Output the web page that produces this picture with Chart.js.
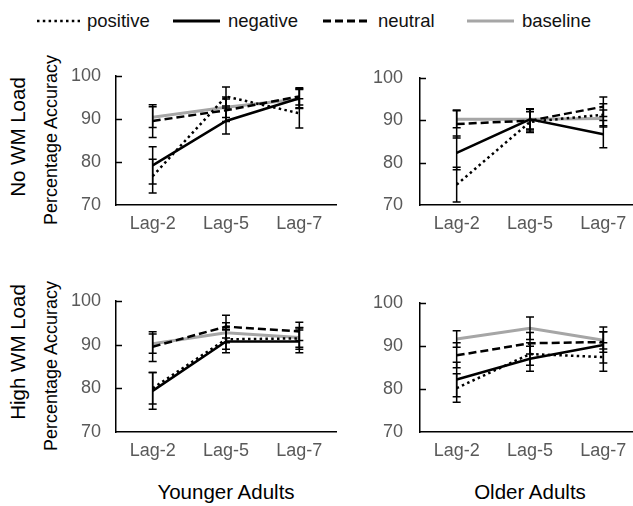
<!DOCTYPE html>
<html><head><meta charset="utf-8">
<script src="https://cdn.jsdelivr.net/npm/chart.js@4.4.1/dist/chart.umd.min.js"></script>
<style>
html,body{margin:0;padding:0;background:#fff;width:633px;height:506px;overflow:hidden;position:relative;font-family:"Liberation Sans",Arial,sans-serif;}
canvas{position:absolute;}
.rot{position:absolute;transform:translate(-50%,-50%) rotate(-90deg);white-space:nowrap;color:#000;}
.lab{position:absolute;transform:translate(-50%,-50%);white-space:nowrap;color:#000;}
</style></head><body>
<svg width="633" height="36" style="position:absolute;left:0;top:0" font-family="Liberation Sans, Arial, sans-serif">
  <line x1="37" y1="21" x2="80" y2="21" stroke="#000" stroke-width="2.5" stroke-dasharray="2.5,3.3"/>
  <text x="87" y="27" font-size="18.5" fill="#111">positive</text>
  <line x1="173" y1="21" x2="220" y2="21" stroke="#000" stroke-width="3"/>
  <text x="228" y="27" font-size="18.5" fill="#111">negative</text>
  <line x1="323" y1="21" x2="370" y2="21" stroke="#000" stroke-width="3" stroke-dasharray="8,4"/>
  <text x="378" y="27" font-size="18.5" fill="#111">neutral</text>
  <line x1="467" y1="21" x2="514" y2="21" stroke="#a6a6a6" stroke-width="3"/>
  <text x="522" y="27" font-size="18.5" fill="#111">baseline</text>
</svg>
<div class="rot" style="left:18px;top:137px;font-size:20.5px">No WM Load</div>
<div class="rot" style="left:51px;top:140px;font-size:18px">Percentage Accuracy</div>
<div class="rot" style="left:18px;top:352px;font-size:20.5px">High WM Load</div>
<div class="rot" style="left:51px;top:366px;font-size:18px">Percentage Accuracy</div>
<div class="lab" style="left:226px;top:492px;font-size:20.5px">Younger Adults</div>
<div class="lab" style="left:530px;top:492px;font-size:20.5px">Older Adults</div>
<canvas id="c1" width="290" height="195" style="left:60px;top:50px"></canvas>
<canvas id="c2" width="280" height="195" style="left:360px;top:50px"></canvas>
<canvas id="c3" width="290" height="197" style="left:60px;top:275px"></canvas>
<canvas id="c4" width="280" height="197" style="left:360px;top:275px"></canvas>
<script>
const categories = ['Lag-2', 'Lag-5', 'Lag-7'];
const seriesNames = ['positive', 'negative', 'neutral', 'baseline'];
const yTicks = [70, 80, 90, 100];

// Younger adults, No WM load
const youngNoPositive = [76.7, 95.2, 91.3];
const youngNoPositiveErr = [3.9, 2.2, 3.4];
const youngNoNegative = [79.2, 89.5, 94.8];
const youngNoNegativeErr = [4.3, 3.0, 2.2];
const youngNoNeutral = [89.5, 92.0, 95.2];
const youngNoNeutralErr = [3.8, 2.6, 2.0];
const youngNoBaseline = [90.4, 92.7, 94.6];
const youngNoBaselineErr = [2.4, 2.4, 2.2];

// Older adults, No WM load
const oldNoPositive = [74.8, 89.6, 91.3];
const oldNoPositiveErr = [4.1, 2.4, 2.6];
const oldNoNegative = [82.3, 90.2, 86.7];
const oldNoNegativeErr = [4.0, 2.5, 3.2];
const oldNoNeutral = [89.1, 89.9, 93.2];
const oldNoNeutralErr = [3.3, 2.8, 2.3];
const oldNoBaseline = [90.2, 90.2, 90.4];
const oldNoBaselineErr = [2.0, 2.3, 2.0];

// Younger adults, High WM load
const youngHighPositive = [80.0, 91.2, 91.4];
const youngHighPositiveErr = [3.6, 2.3, 2.5];
const youngHighNegative = [79.4, 90.7, 90.7];
const youngHighNegativeErr = [4.2, 2.6, 2.6];
const youngHighNeutral = [89.5, 94.1, 93.0];
const youngHighNeutralErr = [3.4, 2.6, 2.1];
const youngHighBaseline = [90.2, 92.7, 91.6];
const youngHighBaselineErr = [2.2, 2.3, 2.2];

// Older adults, High WM load
const oldHighPositive = [80.2, 88.1, 87.4];
const oldHighPositiveErr = [3.3, 2.6, 3.3];
const oldHighNegative = [82.2, 87.0, 90.2];
const oldHighNegativeErr = [4.0, 2.9, 4.2];
const oldHighNeutral = [87.8, 90.6, 90.9];
const oldHighNeutralErr = [2.9, 2.5, 2.4];
const oldHighBaseline = [91.6, 94.1, 91.3];
const oldHighBaselineErr = [1.9, 2.6, 2.0];

const FONT = '"Liberation Sans", Arial, sans-serif';
const styles = {
  positive: {borderColor: '#000', borderWidth: 2.5, borderDash: [2.5, 3.3]},
  negative: {borderColor: '#000', borderWidth: 2.5, borderDash: []},
  neutral:  {borderColor: '#000', borderWidth: 2.5, borderDash: [8, 4]},
  baseline: {borderColor: '#a6a6a6', borderWidth: 3, borderDash: []}
};

const errPlugin = {
  id: 'errbars',
  afterDatasetsDraw(chart) {
    const ctx = chart.ctx, xs = chart.scales.x, ys = chart.scales.y;
    ctx.save();
    ctx.strokeStyle = '#000';
    ctx.lineWidth = 1.5;
    ctx.setLineDash([]);
    chart.data.datasets.forEach(ds => {
      ds.data.forEach((v, j) => {
        const e = ds.errors[j];
        const px = xs.getPixelForValue(j);
        const top = ys.getPixelForValue(v + e), bot = ys.getPixelForValue(v - e);
        ctx.beginPath();
        ctx.moveTo(px, top); ctx.lineTo(px, bot);
        ctx.moveTo(px - 4, top); ctx.lineTo(px + 4, top);
        ctx.moveTo(px - 4, bot); ctx.lineTo(px + 4, bot);
        ctx.stroke();
      });
    });
    yTicks.forEach(t => {
      if (t === ys.min) return;
      const py = Math.round(ys.getPixelForValue(t)) + 0.5;
      ctx.beginPath();
      ctx.moveTo(chart.chartArea.left, py);
      ctx.lineTo(chart.chartArea.left + 6, py);
      ctx.stroke();
    });
    ctx.restore();
  }
};

function makePanel(id, vals, errs, yWidth, padRight, labelPad) {
  const datasets = seriesNames.map((name, i) => Object.assign({
    label: name,
    data: vals[i],
    errors: errs[i],
    pointRadius: 0,
    tension: 0,
    fill: false
  }, styles[name]));
  new Chart(document.getElementById(id), {
    type: 'line',
    data: {labels: categories, datasets},
    plugins: [errPlugin],
    options: {
      responsive: false,
      animation: false,
      devicePixelRatio: 1,
      layout: {padding: {top: 14, right: padRight, bottom: 0, left: 0}},
      plugins: {legend: {display: false}, tooltip: {enabled: false}},
      scales: {
        x: {
          type: 'category',
          offset: true,
          grid: {display: false, drawTicks: false},
          border: {display: true, color: '#000', width: 1.5},
          ticks: {color: '#595959', font: {size: 18, family: FONT}, padding: 8, maxRotation: 0, autoSkip: false},
          afterFit(s) { s.height = 40; }
        },
        y: {
          min: 70, max: 100,
          afterBuildTicks(s) { s.ticks = yTicks.map(v => ({value: v})); },
          grid: {display: false, drawTicks: false},
          border: {display: true, color: '#000', width: 1.5},
          ticks: {color: '#595959', font: {size: 18, family: FONT}, padding: labelPad},
          afterFit(s) { s.width = yWidth; }
        }
      }
    }
  });
}

makePanel('c1',
  [youngNoPositive, youngNoNegative, youngNoNeutral, youngNoBaseline],
  [youngNoPositiveErr, youngNoNegativeErr, youngNoNeutralErr, youngNoBaselineErr], 56, 14, 15);
makePanel('c2',
  [oldNoPositive, oldNoNegative, oldNoNeutral, oldNoBaseline],
  [oldNoPositiveErr, oldNoNegativeErr, oldNoNeutralErr, oldNoBaselineErr], 60, 0, 17);
makePanel('c3',
  [youngHighPositive, youngHighNegative, youngHighNeutral, youngHighBaseline],
  [youngHighPositiveErr, youngHighNegativeErr, youngHighNeutralErr, youngHighBaselineErr], 56, 14, 15);
makePanel('c4',
  [oldHighPositive, oldHighNegative, oldHighNeutral, oldHighBaseline],
  [oldHighPositiveErr, oldHighNegativeErr, oldHighNeutralErr, oldHighBaselineErr], 60, 0, 17);
</script>
</body></html>
